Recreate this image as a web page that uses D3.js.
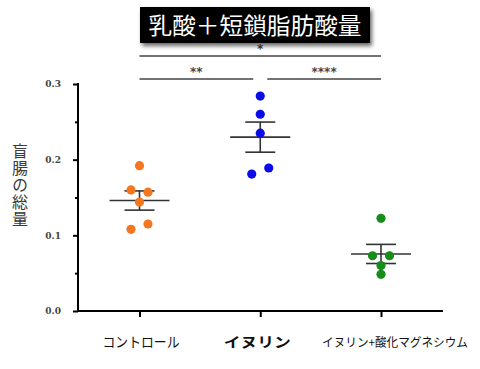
<!DOCTYPE html>
<html>
<head>
<meta charset="utf-8">
<script src="https://cdn.jsdelivr.net/npm/d3@7"></script>
<style>
  body { margin: 0; background: white; }
  svg { display: block; }
</style>
</head>
<body>
<div id="chart"></div>
<script>
const groups = ['コントロール', 'イヌリン', 'イヌリン+酸化マグネシウム']
const groupColors = ['#f6761f', '#0b0be8', '#168c1a']
const controlValues = [0.192, 0.160, 0.157, 0.144, 0.108, 0.115]
const controlOffsets = [0, -1, 1, 0, -1, 1]
const inulinValues = [0.284, 0.260, 0.235, 0.189, 0.181]
const inulinOffsets = [0, 0, 0, 1, -1]
const mgValues = [0.1225, 0.073, 0.073, 0.060, 0.0485]
const mgOffsets = [0, -1, 1, 0, 0]
const yTicks = [0, 0.1, 0.2, 0.3]
const yMinorTicks = [0.05, 0.15, 0.25]
const title = '乳酸＋短鎖脂肪酸量'
const yLabel = '盲腸の総量'
// significance brackets: [from group, to group, label, level]
const brackets = [
    [0, 2, '*', 0],
    [0, 1, '**', 1],
    [1, 2, '****', 1]
]

const width = 480, height = 369

const svg = d3.select('#chart').append('svg')
    .attr('width', width)
    .attr('height', height)

const x = d3.scalePoint().domain(groups).range([139.5, 381]).padding(0)
const y = d3.scaleLinear().domain([0, 0.3]).range([311, 84])

const series = [
    { values: controlValues, offsets: controlOffsets },
    { values: inulinValues, offsets: inulinOffsets },
    { values: mgValues, offsets: mgOffsets }
]

// axes
const yAxis = d3.axisLeft(y).tickValues(yTicks).tickFormat(d3.format('.1f')).tickSize(5).tickSizeOuter(0)
const gy = svg.append('g').attr('transform', 'translate(78,0)').call(yAxis)
gy.select('.domain').attr('stroke-width', 2).attr('d', 'M0,' + y(0) + 'V' + (y(0.3) - 1))
gy.selectAll('.tick line').attr('stroke-width', 2)
gy.selectAll('.tick text')
    .attr('font-family', 'DejaVu Serif, serif')
    .attr('font-weight', 'bold')
    .attr('font-size', 9)
    .attr('fill', '#444')
    .attr('x', -17)
const gyMinor = svg.append('g').attr('transform', 'translate(78,0)')
    .call(d3.axisLeft(y).tickValues(yMinorTicks).tickFormat('').tickSize(3).tickSizeOuter(0))
gyMinor.select('.domain').remove()
gyMinor.selectAll('.tick line').attr('stroke-width', 2)

const gx = svg.append('g').attr('transform', 'translate(0,' + y(0) + ')')
    .call(d3.axisBottom(x).tickSize(6).tickSizeOuter(0).tickFormat(''))
gx.select('.domain').attr('stroke-width', 2).attr('d', 'M77,0H443')
gx.selectAll('.tick line').attr('stroke-width', 2)

// x labels
const labelSpecs = [
    { dx: 1.5, len: 77, size: 14, weight: 'normal' },
    { dx: -3, len: 67, size: 14, weight: 'bold' },
    { dx: 14, len: 146, size: 12, weight: 'normal' }
]
svg.selectAll('.xlabel')
    .data(groups)
    .enter()
    .append('text')
    .attr('class', 'xlabel')
    .attr('x', (d, i) => x(d) + labelSpecs[i].dx)
    .attr('y', 347)
    .attr('text-anchor', 'middle')
    .attr('font-family', 'Noto Sans CJK JP, sans-serif')
    .attr('font-size', (d, i) => labelSpecs[i].size)
    .attr('font-weight', (d, i) => labelSpecs[i].weight)
    .attr('fill', '#111')
    .attr('textLength', (d, i) => labelSpecs[i].len)
    .attr('lengthAdjust', 'spacingAndGlyphs')
    .text(d => d)

// y label, vertical
svg.append('text')
    .attr('x', 20)
    .attr('y', 143)
    .attr('writing-mode', 'vertical-rl')
    .attr('font-family', 'Noto Sans CJK JP, sans-serif')
    .attr('font-size', 16)
    .attr('letter-spacing', 1)
    .attr('fill', '#3a3a3a')
    .text(yLabel)

// error bars (mean and SEM)
series.forEach((s, i) => {
    const cx = x(groups[i])
    const mean = d3.mean(s.values)
    const sem = d3.deviation(s.values) / Math.sqrt(s.values.length)
    const g = svg.append('g').attr('stroke', '#333').attr('stroke-width', 1.6)
    g.append('line').attr('x1', cx - 30).attr('x2', cx + 30).attr('y1', y(mean)).attr('y2', y(mean))
    g.append('line').attr('x1', cx).attr('x2', cx).attr('y1', y(mean + sem)).attr('y2', y(mean - sem))
    g.append('line').attr('x1', cx - 15).attr('x2', cx + 15).attr('y1', y(mean + sem)).attr('y2', y(mean + sem))
    g.append('line').attr('x1', cx - 15).attr('x2', cx + 15).attr('y1', y(mean - sem)).attr('y2', y(mean - sem))
})

// dots
series.forEach((s, i) => {
    svg.append('g').selectAll('circle')
        .data(s.values)
        .enter()
        .append('circle')
        .attr('cx', (d, j) => x(groups[i]) + s.offsets[j] * 8.5)
        .attr('cy', d => y(d))
        .attr('r', 4.6)
        .attr('fill', groupColors[i])
})

// significance brackets
const levelY = [56, 79]
brackets.forEach(b => {
    const x1 = x(groups[b[0]]) + (b[3] === 1 && b[0] === 1 ? 7 : 0)
    const x2 = x(groups[b[1]]) - (b[3] === 1 && b[1] === 1 ? 7 : 0)
    const ly = levelY[b[3]]
    svg.append('line')
        .attr('x1', x1).attr('x2', x2).attr('y1', ly).attr('y2', ly)
        .attr('stroke', '#444').attr('stroke-width', 1.6)
    svg.append('text')
        .attr('x', (x1 + x2) / 2)
        .attr('y', ly - 3)
        .attr('text-anchor', 'middle')
        .attr('font-family', 'DejaVu Sans, sans-serif')
        .attr('font-weight', 'bold')
        .attr('font-size', 12)
        .attr('fill', '#444')
        .text(b[2])
})

// title box with shadow
const defs = svg.append('defs')
const filter = defs.append('filter').attr('id', 'shadow').attr('x', '-10%').attr('y', '-30%').attr('width', '130%').attr('height', '170%')
filter.append('feDropShadow').attr('dx', 2).attr('dy', 3).attr('stdDeviation', 2).attr('flood-color', '#000').attr('flood-opacity', 0.6)
svg.append('rect')
    .attr('x', 140).attr('y', 7).attr('width', 230).attr('height', 36)
    .attr('fill', '#050505')
    .attr('filter', 'url(#shadow)')
svg.append('text')
    .attr('x', 255)
    .attr('y', 34)
    .attr('text-anchor', 'middle')
    .attr('font-family', 'Noto Sans CJK JP, sans-serif')
    .attr('font-size', 23)
    .attr('fill', 'white')
    .attr('textLength', 213)
    .attr('lengthAdjust', 'spacingAndGlyphs')
    .text(title)
</script>
</body>
</html>
